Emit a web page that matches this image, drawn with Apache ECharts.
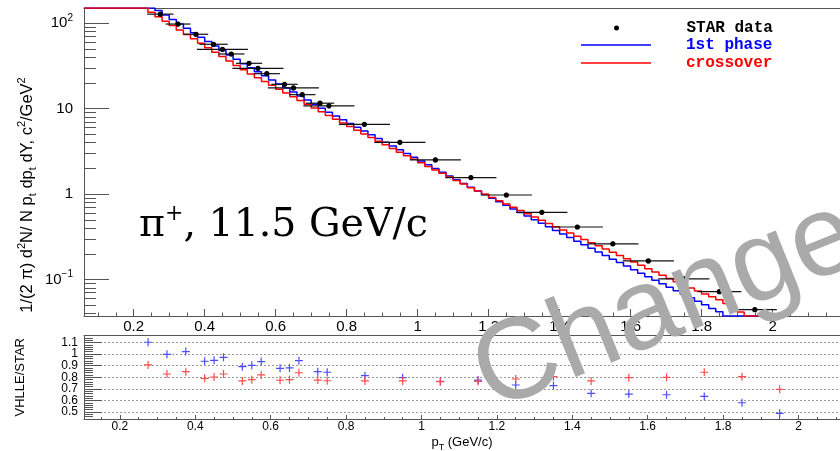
<!DOCTYPE html>
<html lang="en">
<head>
<meta charset="UTF-8">
<title>pi+ spectrum, 11.5 GeV</title>
<script src="https://cdn.jsdelivr.net/npm/echarts@6/dist/echarts.min.js"></script>
<style>
  html, body { margin: 0; padding: 0; background: #fff; }
  #chart { width: 840px; height: 451px; }
</style>
</head>
<body>
<div id="chart"></div>
<script>
// STAR data points (pT, yield, half-width of the x error bar)
var dataX = [0.275, 0.325, 0.375, 0.425, 0.45, 0.475, 0.525, 0.55, 0.575, 0.625, 0.65, 0.675, 0.725, 0.75,
             0.85, 0.95, 1.05, 1.15, 1.25, 1.35, 1.45, 1.55, 1.65, 1.75, 1.85, 1.95];
var dataY = [128, 98, 74.4, 56.8, 49.6, 43.7, 34, 29.7, 25.7, 19.3, 17.5, 14.6, 11.6, 10.8,
             6.57, 4.04, 2.51, 1.56, 0.976, 0.612, 0.412, 0.262, 0.165, 0.102, 0.072, 0.0443];
var dataXErr = [0.037, 0.035, 0.035, 0.04, 0.072, 0.037, 0.037, 0.072, 0.037, 0.037, 0.072, 0.037, 0.04, 0.072,
                0.072, 0.072, 0.072, 0.072, 0.072, 0.072, 0.072, 0.072, 0.072, 0.072, 0.062, 0.062];
var yErrRel = 0.06;

// model histograms, bins of 0.02 starting at 0.06
var binStart = 0.06, binWidth = 0.02;
var blueHist = [151, 151, 151, 151, 151, 151, 151, 151, 151, 151,
  141, 125, 111, 98.4, 87.3, 77.4, 68.7, 61.0, 54.1, 48.0, 42.6, 37.8,
  33.7, 30.2, 27.1, 24.3, 21.7, 19.5, 17.5, 15.7, 14.1, 12.6, 11.3, 10.1, 9.10,
  8.22, 7.43, 6.71, 6.07, 5.48, 4.95, 4.48, 4.05, 3.66, 3.30, 2.99, 2.70, 2.44, 2.20, 1.99, 1.80, 1.63, 1.47, 1.33, 1.20,
  1.089, 0.989, 0.897, 0.815, 0.740, 0.671, 0.610, 0.553, 0.502, 0.456, 0.414, 0.376, 0.341, 0.310, 0.281, 0.255, 0.232, 0.210, 0.191, 0.173,
  0.158, 0.1435, 0.130, 0.1186, 0.108, 0.0982, 0.0893, 0.0811, 0.0738, 0.0671, 0.0611, 0.0556, 0.0505, 0.0459, 0.0418,
  0.0374, 0.0374, 0.0374, 0.0374, 0.0374];
var redHist = [151, 151, 151, 151, 151, 151, 151, 151, 151, 135,
  119, 106, 94.0, 83.4, 74.1, 65.8, 58.3, 51.8, 45.9, 40.8, 36.2, 32.1,
  28.5, 25.5, 23.0, 20.8, 18.8, 16.9, 15.3, 13.8, 12.5, 11.3, 10.2, 9.20, 8.30,
  7.52, 6.81, 6.17, 5.60, 5.07, 4.59, 4.16, 3.78, 3.42, 3.10, 2.82, 2.56, 2.33, 2.11, 1.92, 1.75, 1.59, 1.44, 1.31, 1.19,
  1.09, 0.999, 0.914, 0.838, 0.767, 0.702, 0.643, 0.589, 0.538, 0.493, 0.453, 0.415, 0.381, 0.350, 0.321, 0.294, 0.270, 0.248, 0.228, 0.209,
  0.191, 0.175, 0.160, 0.1466, 0.134, 0.1225, 0.1122, 0.1026, 0.0939, 0.0859, 0.0794, 0.0734, 0.0679, 0.0627, 0.0579,
  0.0525, 0.0468, 0.0417, 0.0374, 0.0374];

// ratio VHLLE/STAR at the data points
var ratioBlue = [1.102, 0.998, 1.021, 0.938, 0.946, 0.972, 0.891, 0.903, 0.935, 0.877, 0.880, 0.943, 0.848, 0.843,
                 0.814, 0.796, 0.765, 0.776, 0.733, 0.727, 0.661, 0.655, 0.649, 0.635, 0.580, 0.489];
var ratioRed = [0.906, 0.828, 0.848, 0.791, 0.802, 0.828, 0.768, 0.779, 0.820, 0.774, 0.779, 0.839, 0.776, 0.770,
                0.768, 0.768, 0.762, 0.765, 0.785, 0.805, 0.768, 0.796, 0.799, 0.843, 0.805, 0.696];

// axis ranges and tick labels
var xTopMin = 0.06, xTopMax = 2.19;
var xBotMin = 0.105, xBotMax = 2.11;
var yTopMin = 0.0374, yTopMax = 151;
var yBotMin = 0.44, yBotMax = 1.16;
var xMajor = [0.2, 0.4, 0.6, 0.8, 1.0, 1.2, 1.4, 1.6, 1.8, 2.0];
var yTopMajor = [0.1, 1, 10, 100];
var yBotMajor = [0.5, 0.6, 0.7, 0.8, 0.9, 1.0, 1.1];
var yBotLabelsA = [0.5, 0.7, 0.9, 1.1];
var yBotLabelsB = [0.6, 0.8, 1.0];

var FONT = '"Liberation Sans", Arial, sans-serif';
var MONO = '"Liberation Mono", monospace';
var AX = '#555';

function minorX(lo, hi) {
  var out = [];
  for (var k = 1; k < 50; k++) {
    var v = Math.round(k * 5) / 100;
    if (k % 4 !== 0 && v > lo && v < hi) out.push(v);
  }
  return out;
}
function minorLog(lo, hi) {
  var out = [];
  for (var e = -2; e <= 2; e++) {
    for (var m = 2; m <= 9; m++) {
      var v = m * Math.pow(10, e);
      if (v > lo && v < hi) out.push(v);
    }
  }
  return out;
}
function minorBotY() {
  var out = [];
  for (var k = 23; k <= 57; k++) if (k % 5 !== 0) out.push(Math.round(k * 2) / 100);
  return out;
}
function fmtX(v) { return String(parseFloat(v.toFixed(1))); }
function fmtLog(v) {
  var e = Math.round(Math.log10(v));
  if (e === 0) return '1';
  if (e === 1) return '10';
  return '10{s|' + (e < 0 ? '\u2212' + (-e) : e) + '}';
}
function histData(vals) {
  var d = vals.map(function (v, i) { return [binStart + i * binWidth, v]; });
  d.push([binStart + vals.length * binWidth, vals[vals.length - 1]]);
  return d;
}
function renderPoint(params, api) {
  var x = api.value(0), y = api.value(1), xe = api.value(2);
  var c = api.coord([x, y]);
  var l = api.coord([x - xe, y]);
  var r = api.coord([x + xe, y]);
  var t = api.coord([x, y * (1 + yErrRel)]);
  var b = api.coord([x, y * (1 - yErrRel)]);
  return {
    type: 'group',
    children: [
      { type: 'line', shape: { x1: l[0], y1: c[1], x2: r[0], y2: c[1] }, style: { stroke: '#111', lineWidth: 1.2 } },
      { type: 'line', shape: { x1: c[0], y1: t[1], x2: c[0], y2: b[1] }, style: { stroke: '#111', lineWidth: 1.6 } },
      { type: 'circle', shape: { cx: c[0], cy: c[1], r: 2.6 }, style: { fill: '#000' } }
    ]
  };
}

var points = dataX.map(function (x, i) { return [x, dataY[i], dataXErr[i]]; });
var rBlue = dataX.map(function (x, i) { return [x, ratioBlue[i]]; });
var rRed = dataX.map(function (x, i) { return [x, ratioRed[i]]; });

var lineStyleAx = { color: AX, width: 1 };
var noLabel = { show: false };
var plusPath = 'path://M0,5L10,5M5,0L5,10';
var botYLabel = { margin: 6, fontSize: 12, color: '#000', formatter: fmtX,
  showMinLabel: true, showMaxLabel: true, hideOverlap: false };

var chart = echarts.init(document.getElementById('chart'));
var option = {
  animation: false,
  backgroundColor: '#fff',
  textStyle: { fontFamily: FONT },
  title: {
    text: '{a|\u03c0}{s|+}{a|, 11.5 GeV/c}',
    left: 134, top: 198,
    textStyle: {
      fontWeight: 'normal',
      rich: {
        a: { fontFamily: '"DejaVu Serif", serif', fontSize: 39.5, fontWeight: 'normal', color: '#000', lineHeight: 46 },
        s: { fontFamily: '"DejaVu Serif", serif', fontSize: 22, fontWeight: 'normal', color: '#000', verticalAlign: 'top', lineHeight: 22 }
      }
    }
  },
  legend: [
    { data: [{ name: 'STAR data', icon: 'circle' }], left: 614, top: 20, padding: 0, itemWidth: 70, itemHeight: 5,
      selectedMode: false,
      textStyle: { fontFamily: MONO, fontWeight: 'bold', fontSize: 16, color: '#000', padding: [0, 0, 0, 30] } },
    { data: [{ name: '1st phase', icon: 'rect' }], left: 581, top: 37, padding: 0, itemWidth: 70, itemHeight: 1.5,
      selectedMode: false,
      textStyle: { fontFamily: MONO, fontWeight: 'bold', fontSize: 16, color: '#0000ff', padding: [0, 0, 0, 30] } },
    { data: [{ name: 'crossover', icon: 'rect' }], left: 581, top: 55, padding: 0, itemWidth: 70, itemHeight: 1.5,
      selectedMode: false,
      textStyle: { fontFamily: MONO, fontWeight: 'bold', fontSize: 16, color: '#ff0000', padding: [0, 0, 0, 30] } }
  ],
  grid: [
    { left: 84, right: 0, top: 8, height: 308, containLabel: false, outerBoundsMode: 'none' },
    { left: 84, right: 0, top: 335.5, height: 83.5, containLabel: false, outerBoundsMode: 'none' }
  ],
  xAxis: [
    { gridIndex: 0, type: 'value', position: 'bottom', min: xTopMin, max: xTopMax,
      axisLine: { onZero: false, lineStyle: lineStyleAx },
      axisTick: { inside: true, length: 7, customValues: xMajor, lineStyle: lineStyleAx },
      axisLabel: { customValues: xMajor, margin: 3, fontSize: 15, color: '#000', formatter: fmtX },
      splitLine: { show: false } },
    { gridIndex: 0, type: 'value', position: 'bottom', min: xTopMin, max: xTopMax,
      axisLine: { show: false },
      axisTick: { inside: true, length: 3.5, customValues: minorX(xTopMin, xTopMax), lineStyle: lineStyleAx },
      axisLabel: noLabel, splitLine: { show: false } },
    { gridIndex: 0, type: 'value', position: 'top', min: xTopMin, max: xTopMax,
      axisLine: { onZero: false, lineStyle: lineStyleAx }, axisTick: { show: false }, axisLabel: noLabel, splitLine: { show: false } },
    { gridIndex: 1, type: 'value', position: 'bottom', min: xBotMin, max: xBotMax,
      name: 'p{sub|T} (GeV/c)', nameLocation: 'middle', nameGap: 14,
      nameTextStyle: { fontSize: 13, color: '#000', lineHeight: 18, rich: { sub: { fontSize: 9, verticalAlign: 'bottom', lineHeight: 10 } } },
      axisLine: { onZero: false, lineStyle: lineStyleAx },
      axisTick: { inside: true, length: 4, customValues: xMajor, lineStyle: lineStyleAx },
      axisLabel: { customValues: xMajor, margin: 2, fontSize: 12, color: '#000', formatter: fmtX },
      splitLine: { show: false } },
    { gridIndex: 1, type: 'value', position: 'bottom', min: xBotMin, max: xBotMax,
      axisLine: { show: false },
      axisTick: { inside: true, length: 2, customValues: minorX(xBotMin, xBotMax), lineStyle: lineStyleAx },
      axisLabel: noLabel, splitLine: { show: false } },
    { gridIndex: 1, type: 'value', position: 'top', min: xBotMin, max: xBotMax,
      axisLine: { onZero: false, lineStyle: lineStyleAx }, axisTick: { show: false }, axisLabel: noLabel, splitLine: { show: false } }
  ],
  yAxis: [
    { gridIndex: 0, type: 'log', logBase: 10, position: 'left', min: yTopMin, max: yTopMax,
      name: '1/(2 \u03c0) d{sup|2}N/ N p{sub|t} dp{sub|t} dY, c{sup|2}/GeV{sup|2}',
      nameLocation: 'middle', nameRotate: 90, nameGap: 46, nameMoveOverlap: false,
      nameTextStyle: { fontSize: 16.5, color: '#000', lineHeight: 22, padding: [0, 66, 0, 0],
        rich: { sup: { fontSize: 11, verticalAlign: 'top', lineHeight: 12 }, sub: { fontSize: 11, verticalAlign: 'bottom', lineHeight: 12 } } },
      axisLine: { onZero: false, lineStyle: lineStyleAx },
      axisTick: { inside: true, length: 25, customValues: yTopMajor, lineStyle: lineStyleAx },
      axisLabel: { customValues: yTopMajor, margin: 11, fontSize: 15, color: '#000', lineHeight: 20, formatter: fmtLog,
        showMinLabel: true, showMaxLabel: true,
        rich: { s: { fontSize: 10, verticalAlign: 'top', lineHeight: 12 } } },
      splitLine: { show: false } },
    { gridIndex: 0, type: 'log', logBase: 10, position: 'left', min: yTopMin, max: yTopMax,
      axisLine: { show: false },
      axisTick: { inside: true, length: 12, customValues: minorLog(yTopMin, yTopMax), lineStyle: lineStyleAx },
      axisLabel: noLabel, splitLine: { show: false } },
    { gridIndex: 1, type: 'value', position: 'left', min: yBotMin, max: yBotMax, splitNumber: 7,
      name: 'VHLLE/STAR', nameLocation: 'middle', nameRotate: 90, nameGap: 57,
      nameTextStyle: { fontSize: 13, color: '#000' },
      axisLine: { onZero: false, lineStyle: lineStyleAx },
      axisTick: { inside: true, length: 18, customValues: yBotMajor, lineStyle: lineStyleAx },
      axisLabel: Object.assign({ customValues: yBotLabelsA }, botYLabel),
      splitLine: { show: true, lineStyle: { color: '#9a9a9a', type: [2, 2], width: 1 } } },
    { gridIndex: 1, type: 'value', position: 'left', min: yBotMin, max: yBotMax,
      axisLine: { show: false },
      axisTick: { inside: true, length: 9, customValues: minorBotY(), lineStyle: lineStyleAx },
      axisLabel: Object.assign({ customValues: yBotLabelsB }, botYLabel),
      splitLine: { show: false } }
  ],
  series: [
    { name: '1st phase', type: 'line', xAxisIndex: 0, yAxisIndex: 0, step: 'end', data: histData(blueHist),
      symbol: 'none', color: '#0000ff', lineStyle: { color: '#0000ff', width: 1.5 }, z: 2 },
    { name: 'crossover', type: 'line', xAxisIndex: 0, yAxisIndex: 0, step: 'end', data: histData(redHist),
      symbol: 'none', color: '#ff0000', lineStyle: { color: '#ff0000', width: 1.5 }, z: 3 },
    { name: 'STAR data', type: 'custom', xAxisIndex: 0, yAxisIndex: 0, renderItem: renderPoint,
      encode: { x: 0, y: 1 }, data: points, itemStyle: { color: '#000' }, clip: true, z: 4 },
    { name: 'ratio 1st phase', type: 'scatter', xAxisIndex: 3, yAxisIndex: 2, data: rBlue,
      symbol: plusPath, symbolSize: 8, itemStyle: { color: 'none', borderColor: '#4d4dff', borderWidth: 1.2, opacity: 1 }, z: 3 },
    { name: 'ratio crossover', type: 'scatter', xAxisIndex: 3, yAxisIndex: 2, data: rRed,
      symbol: plusPath, symbolSize: 8, itemStyle: { color: 'none', borderColor: '#ff4d4d', borderWidth: 1.2, opacity: 1 }, z: 3 }
  ],
  graphic: [
    { type: 'text', x: 501, y: 435, rotation: 0.384, z: 100, silent: true,
      style: { text: 'Change', fontSize: 115, fontFamily: FONT, fill: '#aaaaaa', align: 'left', verticalAlign: 'bottom' } }
  ]
};
chart.setOption(option);
</script>
</body>
</html>
